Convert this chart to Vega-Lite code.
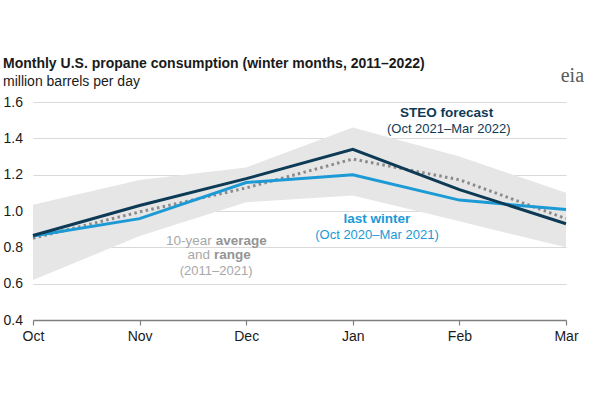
{
  "$schema": "https://vega.github.io/schema/vega-lite/v6.json",
  "width": 533,
  "height": 218,
  "autosize": {"type": "none"},
  "padding": {"left": 33, "top": 102, "right": 34, "bottom": 80},
  "background": "white",
  "config": {
    "view": {"stroke": null},
    "font": "Liberation Sans",
    "text": {"font": "Liberation Sans"},
    "axisY": {
      "values": [0.4, 0.6, 0.8, 1.0, 1.2, 1.4, 1.6],
      "tickCount": 7,
      "labelOverlap": false,
      "format": ".1f",
      "labelAlign": "left",
      "labelBaseline": "middle",
      "labelPadding": 30,
      "ticks": false,
      "domain": false,
      "grid": true,
      "gridColor": "#d9d9d9",
      "gridWidth": 1,
      "labelFont": "Liberation Sans",
      "labelFontSize": 14,
      "labelColor": "#1a1a1a"
    }
  },
  "title": {
    "text": "Monthly U.S. propane consumption (winter months, 2011–2022)",
    "subtitle": "million barrels per day",
    "anchor": "start",
    "frame": "group",
    "dx": -30,
    "offset": -23,
    "font": "Liberation Sans",
    "fontSize": 14,
    "fontWeight": "bold",
    "color": "#1a1a1a",
    "subtitleFont": "Liberation Sans",
    "subtitleFontSize": 14,
    "subtitleColor": "#1a1a1a",
    "subtitlePadding": 4
  },
  "datasets": {
    "series": [
      {"i": 0, "month": "Oct", "lo": 0.62, "hi": 1.035, "avg": 0.85, "steo": 0.865, "last": 0.862},
      {"i": 1, "month": "Nov", "lo": 0.862, "hi": 1.17, "avg": 0.995, "steo": 1.03, "last": 0.958},
      {"i": 2, "month": "Dec", "lo": 1.048, "hi": 1.24, "avg": 1.127, "steo": 1.178, "last": 1.157},
      {"i": 3, "month": "Jan", "lo": 1.085, "hi": 1.46, "avg": 1.286, "steo": 1.34, "last": 1.2},
      {"i": 4, "month": "Feb", "lo": 0.943, "hi": 1.3, "avg": 1.172, "steo": 1.118, "last": 1.06},
      {"i": 5, "month": "Mar", "lo": 0.8, "hi": 1.1, "avg": 0.958, "steo": 0.93, "last": 1.008}
    ]
  },
  "layer": [
    {
      "data": {"name": "series"},
      "mark": {"type": "area", "color": "#e6e6e6", "opacity": 1},
      "encoding": {
        "x": {
          "field": "i", "type": "quantitative",
          "scale": {"domain": [0, 5], "nice": false, "zero": false},
          "axis": {
            "title": null,
            "values": [0, 1, 2, 3, 4, 5],
            "labelExpr": "['Oct','Nov','Dec','Jan','Feb','Mar'][datum.value]",
            "grid": false,
            "ticks": true,
            "tickSize": 5,
            "tickColor": "#7f7f7f",
            "tickWidth": 1.2,
            "domainColor": "#7f7f7f",
            "domainWidth": 1.6,
            "labelPadding": 4,
            "labelFont": "Liberation Sans",
            "labelFontSize": 14,
            "labelColor": "#1a1a1a",
            "labelFlush": false
          }
        },
        "y": {
          "field": "lo", "type": "quantitative",
          "scale": {"domain": [0.4, 1.6], "nice": false, "zero": false},
          "axis": {"title": null}
        },
        "y2": {"field": "hi"}
      }
    },
    {
      "data": {"name": "series"},
      "mark": {"type": "line", "color": "#8a8a8a", "strokeWidth": 3, "strokeDash": [2.5, 3.3]},
      "encoding": {
        "x": {"field": "i", "type": "quantitative"},
        "y": {"field": "avg", "type": "quantitative"}
      }
    },
    {
      "data": {"name": "series"},
      "mark": {"type": "line", "color": "#1b9ad6", "strokeWidth": 3},
      "encoding": {
        "x": {"field": "i", "type": "quantitative"},
        "y": {"field": "last", "type": "quantitative"}
      }
    },
    {
      "data": {"name": "series"},
      "mark": {"type": "line", "color": "#0d3a55", "strokeWidth": 3},
      "encoding": {
        "x": {"field": "i", "type": "quantitative"},
        "y": {"field": "steo", "type": "quantitative"}
      }
    },
    {
      "data": {"values": [
        {"x": 3.88, "y": 1.541, "label": "STEO forecast"}
      ]},
      "mark": {"type": "text", "fontSize": 13.5, "fontWeight": "bold", "color": "#0d3a55", "align": "center", "baseline": "middle"},
      "encoding": {
        "x": {"field": "x", "type": "quantitative"},
        "y": {"field": "y", "type": "quantitative"},
        "text": {"field": "label"}
      }
    },
    {
      "data": {"values": [
        {"x": 3.9, "y": 1.452, "label": "(Oct 2021–Mar 2022)"}
      ]},
      "mark": {"type": "text", "fontSize": 13, "color": "#0d3a55", "align": "center", "baseline": "middle"},
      "encoding": {
        "x": {"field": "x", "type": "quantitative"},
        "y": {"field": "y", "type": "quantitative"},
        "text": {"field": "label"}
      }
    },
    {
      "data": {"values": [
        {"x": 3.227, "y": 0.958, "label": "last winter"}
      ]},
      "mark": {"type": "text", "fontSize": 13.5, "fontWeight": "bold", "color": "#1b9ad6", "align": "center", "baseline": "middle"},
      "encoding": {
        "x": {"field": "x", "type": "quantitative"},
        "y": {"field": "y", "type": "quantitative"},
        "text": {"field": "label"}
      }
    },
    {
      "data": {"values": [
        {"x": 3.227, "y": 0.866, "label": "(Oct 2020–Mar 2021)"}
      ]},
      "mark": {"type": "text", "fontSize": 13, "color": "#1b9ad6", "align": "center", "baseline": "middle"},
      "encoding": {
        "x": {"field": "x", "type": "quantitative"},
        "y": {"field": "y", "type": "quantitative"},
        "text": {"field": "label"}
      }
    },
    {
      "data": {"values": [
        {"x": 1.695, "y": 0.835, "label": "10-year"},
        {"x": 1.679, "y": 0.757, "label": "and"}
      ]},
      "mark": {"type": "text", "fontSize": 13.5, "color": "#a8a8a8", "align": "right", "baseline": "middle", "dx": -2},
      "encoding": {
        "x": {"field": "x", "type": "quantitative"},
        "y": {"field": "y", "type": "quantitative"},
        "text": {"field": "label"}
      }
    },
    {
      "data": {"values": [
        {"x": 1.695, "y": 0.835, "label": "average"},
        {"x": 1.679, "y": 0.757, "label": "range"}
      ]},
      "mark": {"type": "text", "fontSize": 13.5, "fontWeight": "bold", "color": "#949494", "align": "left", "baseline": "middle", "dx": 2},
      "encoding": {
        "x": {"field": "x", "type": "quantitative"},
        "y": {"field": "y", "type": "quantitative"},
        "text": {"field": "label"}
      }
    },
    {
      "data": {"values": [
        {"x": 1.718, "y": 0.672, "label": "(2011–2021)"}
      ]},
      "mark": {"type": "text", "fontSize": 13, "color": "#a8a8a8", "align": "center", "baseline": "middle"},
      "encoding": {
        "x": {"field": "x", "type": "quantitative"},
        "y": {"field": "y", "type": "quantitative"},
        "text": {"field": "label"}
      }
    },
    {
      "data": {"values": [
        {"x": 5.06, "y": 1.745, "label": "eia"}
      ]},
      "mark": {"type": "text", "font": "Liberation Serif", "fontSize": 20, "color": "#5a5a5a", "align": "center", "baseline": "middle"},
      "encoding": {
        "x": {"field": "x", "type": "quantitative"},
        "y": {"field": "y", "type": "quantitative"},
        "text": {"field": "label"}
      }
    }
  ]
}
